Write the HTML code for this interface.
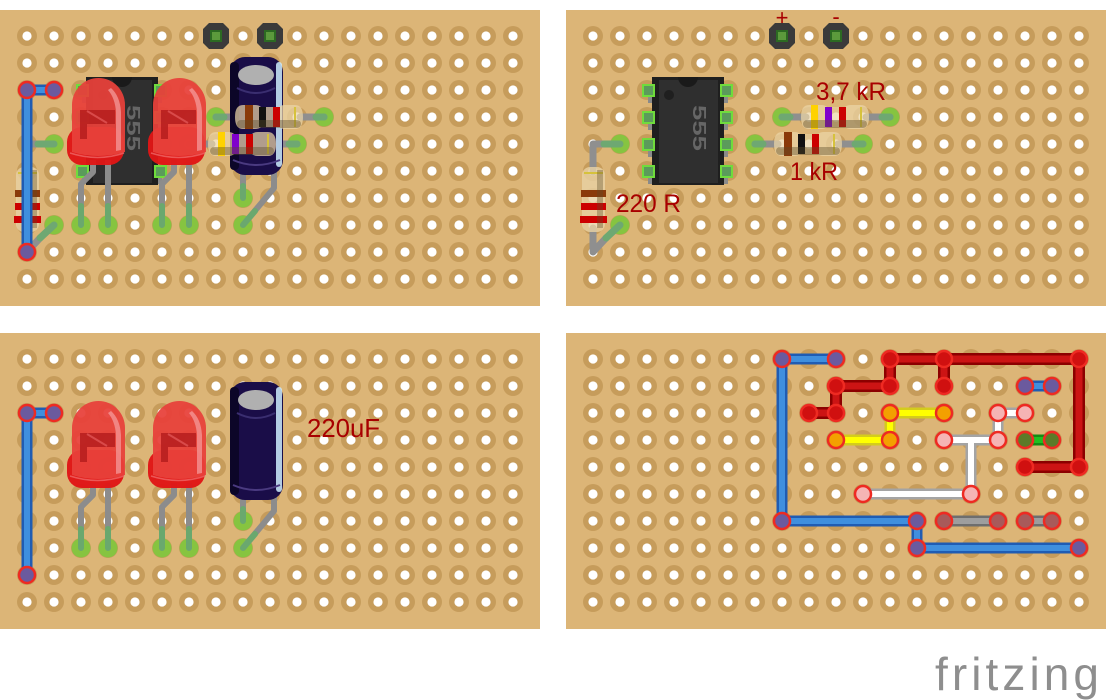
<!DOCTYPE html>
<html><head><meta charset="utf-8"><style>
html,body{margin:0;padding:0;background:#fff;}
svg{display:block;}
text{font-family:"Liberation Sans","DejaVu Sans",sans-serif;}
</style></head><body>
<svg width="1107" height="700" viewBox="0 0 1107 700" xmlns="http://www.w3.org/2000/svg" xmlns:xlink="http://www.w3.org/1999/xlink">
<defs>
<pattern id="h" x="13.5" y="22.5" width="27" height="27" patternUnits="userSpaceOnUse">
<circle cx="13.5" cy="13.5" r="10" fill="#c69c5b"/>
<circle cx="13.5" cy="13.5" r="4.6" fill="#fff"/>
</pattern>
<g id="board">
<rect x="0" y="10" width="540" height="296" fill="#dcb577"/>
<rect x="13.5" y="22.5" width="513" height="270" fill="url(#h)"/>
</g>
<g id="hdr">
<path d="M-7,-13 L7,-13 L13,-7 L13,7 L7,13 L-7,13 L-13,7 L-13,-7 Z" fill="#3a3a3a"/>
<rect x="-6" y="-6" width="12" height="12" fill="#2c6a22"/>
<rect x="-4" y="-4" width="8" height="8" fill="#5c9a3c"/>
</g>
<circle id="gr" r="9.5" fill="#86c440"/>
<g id="chip">
<g fill="#8a8a8a">
<rect x="82" y="94" width="5" height="9"/><rect x="82" y="121" width="5" height="9"/><rect x="82" y="148" width="5" height="9"/><rect x="82" y="175" width="5" height="9"/>
<rect x="157" y="94" width="5" height="9"/><rect x="157" y="121" width="5" height="9"/><rect x="157" y="148" width="5" height="9"/><rect x="157" y="175" width="5" height="9"/>
</g>
<rect x="86" y="77" width="72" height="108" fill="#1f1f1f"/>
<rect x="93" y="80" width="59" height="103" fill="#2f2f2f"/>
<path d="M112,77 A10,10 0 0 0 132,77 Z" fill="#1a1a1a"/>
<circle cx="103" cy="95" r="5" fill="#1f1f1f"/>
<text transform="translate(127,128) rotate(90)" text-anchor="middle" font-size="18" font-weight="bold" fill="#666" textLength="46" lengthAdjust="spacingAndGlyphs">555</text>
<g fill="#5b9b5b" stroke="#6fdc3c" stroke-width="2">
<rect x="77" y="85" width="11" height="11"/><rect x="77" y="112" width="11" height="11"/><rect x="77" y="139" width="11" height="11"/><rect x="77" y="166" width="11" height="11"/>
<rect x="155" y="85" width="11" height="11"/><rect x="155" y="112" width="11" height="11"/><rect x="155" y="139" width="11" height="11"/><rect x="155" y="166" width="11" height="11"/>
</g>
</g>
<g id="vres">
<path d="M27,144 L27,172 M27,144 L40,144 M27,228 L27,252 L40,238" fill="none" stroke="#8f8f8f" stroke-width="7" stroke-linecap="round" stroke-linejoin="round"/>
<path d="M38,144 L54,144 M40,238 L54,225" fill="none" stroke="#6ea872" stroke-width="7" stroke-linecap="round"/>
<rect x="16" y="167" width="23" height="65" rx="8" fill="#e8d2a4" opacity=".8"/>
<rect x="18" y="172" width="19" height="2" fill="#d6c23c"/>
<rect x="15" y="190" width="25" height="7" fill="#8a3a0a"/>
<rect x="15" y="203" width="25" height="7" fill="#cc0000"/>
<rect x="14" y="216" width="27" height="7" fill="#cc0000"/>
<rect x="31" y="170" width="6" height="58" fill="#5a4a28" opacity=".35"/>
</g>
<g id="bw">
<path d="M54,90 L27,90 L27,252" fill="none" stroke="#1f5cb3" stroke-width="11" stroke-linejoin="round" stroke-linecap="round"/>
<path d="M54,90 L27,90 L27,252" fill="none" stroke="#3f8fde" stroke-width="6" stroke-linejoin="round" stroke-linecap="round"/>
<g fill="#6b5a9e" stroke="#ee2a22" stroke-width="2.5">
<circle cx="27" cy="90" r="8"/><circle cx="54" cy="90" r="8"/><circle cx="27" cy="252" r="8"/>
</g>
</g>
<g id="led">
<path d="M93,160 L93,172 L81,184 L81,225" fill="none" stroke="#8c8c8c" stroke-width="6" stroke-linejoin="round"/>
<path d="M108,160 L108,225" stroke="#8c8c8c" stroke-width="6"/>
<path d="M81,206 L81,225 M108,206 L108,225" stroke="#6aa86e" stroke-width="6" stroke-linecap="round"/>
<rect x="67" y="127" width="57" height="38" rx="15" fill="#e01515" opacity=".96"/>
<path d="M72,152 L72,105 A26.5,27 0 0 1 125,105 L125,152 Q98,160 72,152 Z" fill="#e8413a" opacity=".94"/>
<path d="M111,88 Q120,96 121,112 L121,150 L116,151 L116,112 Q115,98 108,90 Z" fill="#f49a9a" opacity=".75"/>
<path d="M80,110 H115 V124 H87 V139 H80 Z" fill="#b51d1d" opacity=".85"/>
<path d="M87,111 L107,123" stroke="#d94a4a" stroke-width="2"/>
<path d="M70,153 Q98,162 124,153" fill="none" stroke="#f07070" stroke-width="1.5" opacity=".7"/>
</g>
<g id="capl">
<path d="M243,170 L243,198" stroke="#8c8c8c" stroke-width="6"/>
<path d="M243,186 L243,198" stroke="#6aa86e" stroke-width="6" stroke-linecap="round"/>
<path d="M274,170 L274,188 L243,225" fill="none" stroke="#8c8c8c" stroke-width="6" stroke-linejoin="round"/>
<path d="M255,211 L243,225" stroke="#6aa86e" stroke-width="6" stroke-linecap="round"/>
</g>
<g id="capb">
<rect x="230" y="57" width="53" height="118" rx="15" fill="#1a0d48"/>
<rect x="230" y="62" width="9" height="108" rx="4" fill="#0c0628"/>
<ellipse cx="256" cy="75" rx="18" ry="10" fill="#b0b0b0"/>
<path d="M237,88 Q256,98 275,88" fill="none" stroke="#3a2e70" stroke-width="2"/>
<rect x="276" y="62" width="6" height="105" rx="3" fill="#cfeeff" opacity=".85"/>
<path d="M233,160 Q256,170 280,160" fill="none" stroke="#4a3a80" stroke-width="2"/>
</g>
<path id="rbody" d="M8,-12 H20 Q24,-12 26,-10 H44 Q46,-12 50,-12 H60 Q68,-12 68,0 Q68,12 60,12 H50 Q46,12 44,10 H26 Q24,12 20,12 H8 Q0,12 0,0 Q0,-12 8,-12 Z" fill="#ecd6a6" opacity=".72"/>
<rect id="rsh" x="2" y="3" width="64" height="8" rx="4" fill="#5a4a28" opacity=".4"/>
<g id="rBBR">
<use href="#rbody"/>
<rect x="10" y="-12" width="8" height="24" fill="#8a3a0a"/>
<rect x="24" y="-10" width="7" height="20" fill="#111"/>
<rect x="38" y="-10" width="7" height="20" fill="#cc0000"/>
<rect x="59" y="-10" width="2" height="20" fill="#d6c23c"/>
<use href="#rsh"/>
</g>
<g id="rYVR">
<use href="#rbody"/>
<rect x="10" y="-12" width="7" height="24" fill="#ffd200"/>
<rect x="24" y="-10" width="7" height="20" fill="#8000cc"/>
<rect x="38" y="-10" width="7" height="20" fill="#cc0000"/>
<rect x="59" y="-10" width="2" height="20" fill="#d6c23c"/>
<use href="#rsh"/>
</g>
</defs>

<!-- PANEL 1 -->
<g>
<use href="#board"/>
<use href="#hdr" x="216" y="36"/><use href="#hdr" x="270" y="36"/>
<use href="#gr" x="54" y="144"/><use href="#gr" x="54" y="225"/><use href="#gr" x="81" y="225"/><use href="#gr" x="108" y="225"/>
<use href="#gr" x="162" y="225"/><use href="#gr" x="189" y="225"/><use href="#gr" x="243" y="198"/><use href="#gr" x="243" y="225"/>
<use href="#gr" x="216" y="117"/><use href="#gr" x="324" y="117"/><use href="#gr" x="297" y="144"/>
<use href="#chip"/>
<use href="#vres"/>
<use href="#bw"/>
<path d="M216,117 H240 M300,117 H324 M189,144 H212 M272,144 H297" stroke="#8f8f8f" stroke-width="7" stroke-linecap="round"/>
<path d="M216,117 H224 M316,117 H324 M289,144 H297" stroke="#6ea872" stroke-width="7" stroke-linecap="round"/>
<use href="#led"/><use href="#led" x="81"/>
<use href="#capl"/><use href="#capb"/>
<use href="#rBBR" x="235" y="117"/>
<use href="#rYVR" x="208" y="144"/>
</g>

<!-- PANEL 2 -->
<g transform="translate(566,0)">
<use href="#board"/>
<use href="#hdr" x="216" y="36"/><use href="#hdr" x="270" y="36"/>
<text x="216" y="25" text-anchor="middle" font-size="22" fill="#a80000">+</text>
<text x="270" y="24" text-anchor="middle" font-size="22" fill="#a80000">-</text>
<use href="#gr" x="54" y="144"/><use href="#gr" x="54" y="225"/>
<use href="#gr" x="216" y="117"/><use href="#gr" x="324" y="117"/><use href="#gr" x="189" y="144"/><use href="#gr" x="297" y="144"/>
<use href="#chip"/>
<use href="#vres"/>
<path d="M216,117 H240 M300,117 H324 M189,144 H212 M272,144 H297" stroke="#8f8f8f" stroke-width="7" stroke-linecap="round"/>
<path d="M216,117 H224 M316,117 H324 M189,144 H197 M289,144 H297" stroke="#6ea872" stroke-width="7" stroke-linecap="round"/>
<use href="#rYVR" x="235" y="117"/>
<use href="#rBBR" x="208" y="144"/>
<text x="250" y="100" font-size="25" fill="#a80000" textLength="70" lengthAdjust="spacingAndGlyphs">3,7 kR</text>
<text x="224" y="180" font-size="25" fill="#a80000" textLength="48" lengthAdjust="spacingAndGlyphs">1 kR</text>
<text x="50" y="212" font-size="25" fill="#a80000" textLength="65" lengthAdjust="spacingAndGlyphs">220 R</text>
</g>

<!-- PANEL 3 -->
<g transform="translate(0,323)">
<use href="#board"/>
<use href="#gr" x="81" y="225"/><use href="#gr" x="108" y="225"/><use href="#gr" x="162" y="225"/><use href="#gr" x="189" y="225"/>
<use href="#gr" x="243" y="198"/><use href="#gr" x="243" y="225"/>
<use href="#bw"/>
<use href="#led"/><use href="#led" x="81"/>
<use href="#capl"/><use href="#capb" y="2"/>
<text x="307" y="114" font-size="26" fill="#a80000" textLength="73" lengthAdjust="spacingAndGlyphs">220uF</text>
</g>

<!-- PANEL 4 -->
<g transform="translate(566,323)" fill="none" stroke-linejoin="round" stroke-linecap="round">
<use href="#board"/>
<path d="M270,36 L216,36 L216,198 L351,198 L351,225 L513,225 M459,63 L486,63" stroke="#1f5cb3" stroke-width="11"/>
<path d="M270,36 L216,36 L216,198 L351,198 L351,225 L513,225 M459,63 L486,63" stroke="#3f8fde" stroke-width="6"/>
<path d="M243,90 L270,90 L270,63 L324,63 L324,36 L513,36 L513,144 L459,144 M378,36 L378,63" stroke="#8c0000" stroke-width="12"/>
<path d="M243,90 L270,90 L270,63 L324,63 L324,36 L513,36 L513,144 L459,144 M378,36 L378,63" stroke="#cc1414" stroke-width="7"/>
<path d="M270,117 L324,117 L324,90 L378,90" stroke="#d4cc1c" stroke-width="11"/>
<path d="M270,117 L324,117 L324,90 L378,90" stroke="#ffff00" stroke-width="6"/>
<path d="M459,90 L432,90 L432,117 L378,117 M405,117 L405,171 L297,171" stroke="#a4a4a4" stroke-width="11"/>
<path d="M459,90 L432,90 L432,117 L378,117 M405,117 L405,171 L297,171" stroke="#ffffff" stroke-width="6"/>
<path d="M459,117 L486,117" stroke="#158a15" stroke-width="11"/>
<path d="M459,117 L486,117" stroke="#1fc11f" stroke-width="6"/>
<path d="M378,198 L432,198 M459,198 L486,198" stroke="#6e6e6e" stroke-width="11"/>
<path d="M378,198 L432,198 M459,198 L486,198" stroke="#9e9e9e" stroke-width="6"/>
<g stroke="#ee2a22" stroke-width="2.5">
<g fill="#6b5a9e"><circle cx="216" cy="36" r="8"/><circle cx="270" cy="36" r="8"/><circle cx="216" cy="198" r="8"/><circle cx="351" cy="198" r="8"/><circle cx="351" cy="225" r="8"/><circle cx="513" cy="225" r="8"/><circle cx="459" cy="63" r="8"/><circle cx="486" cy="63" r="8"/></g>
<g fill="#d01010"><circle cx="243" cy="90" r="8"/><circle cx="270" cy="90" r="8"/><circle cx="270" cy="63" r="8"/><circle cx="324" cy="63" r="8"/><circle cx="324" cy="36" r="8"/><circle cx="378" cy="36" r="8"/><circle cx="378" cy="63" r="8"/><circle cx="513" cy="36" r="8"/><circle cx="513" cy="144" r="8"/><circle cx="459" cy="144" r="8"/></g>
<g fill="#f3a000"><circle cx="270" cy="117" r="8"/><circle cx="324" cy="117" r="8"/><circle cx="324" cy="90" r="8"/><circle cx="378" cy="90" r="8"/></g>
<g fill="#f5b4b4"><circle cx="459" cy="90" r="8"/><circle cx="432" cy="90" r="8"/><circle cx="432" cy="117" r="8"/><circle cx="378" cy="117" r="8"/><circle cx="405" cy="171" r="8"/><circle cx="297" cy="171" r="8"/></g>
<g fill="#5c7a28"><circle cx="459" cy="117" r="8"/><circle cx="486" cy="117" r="8"/></g>
<g fill="#a85a5a"><circle cx="378" cy="198" r="8"/><circle cx="432" cy="198" r="8"/><circle cx="459" cy="198" r="8"/><circle cx="486" cy="198" r="8"/></g>
</g>
</g>

<text x="935" y="690" font-size="46" fill="#8e8e8e" textLength="164" lengthAdjust="spacing">fritzing</text>
</svg>
</body></html>
